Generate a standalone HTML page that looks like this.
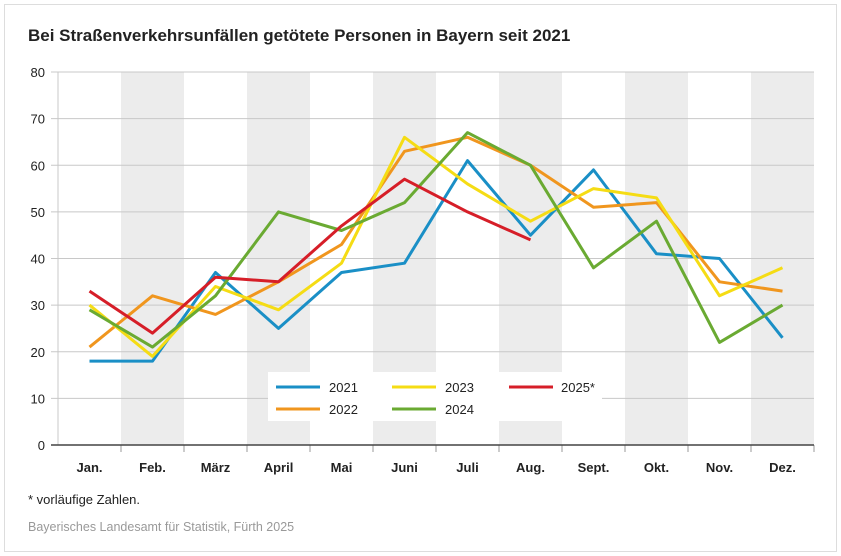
<!DOCTYPE html><html><head><meta charset="utf-8"><style>body{margin:0;background:#fff}svg{display:block;font-family:"Liberation Sans",sans-serif}</style></head><body>
<svg width="841" height="556" viewBox="0 0 841 556">
<rect x="4.5" y="4.5" width="832" height="547" fill="#fff" stroke="#ddd"/>
<text x="28" y="41" font-size="17" font-weight="bold" fill="#222">Bei Straßenverkehrsunfällen getötete Personen in Bayern seit 2021</text>
<g fill="#ececec"><rect x="121" y="72" width="63" height="373"/><rect x="247" y="72" width="63" height="373"/><rect x="373" y="72" width="63" height="373"/><rect x="499" y="72" width="63" height="373"/><rect x="625" y="72" width="63" height="373"/><rect x="751" y="72" width="63" height="373"/></g>
<g stroke="#c8c8c8" stroke-width="1"><line x1="51" x2="814" y1="72" y2="72"/><line x1="51" x2="814" y1="118.6" y2="118.6"/><line x1="51" x2="814" y1="165.3" y2="165.3"/><line x1="51" x2="814" y1="211.9" y2="211.9"/><line x1="51" x2="814" y1="258.5" y2="258.5"/><line x1="51" x2="814" y1="305.1" y2="305.1"/><line x1="51" x2="814" y1="351.8" y2="351.8"/><line x1="51" x2="814" y1="398.4" y2="398.4"/><line x1="58" x2="58" y1="72" y2="445"/></g>
<g stroke="#999"><line x1="121" x2="121" y1="445" y2="452"/><line x1="184" x2="184" y1="445" y2="452"/><line x1="247" x2="247" y1="445" y2="452"/><line x1="310" x2="310" y1="445" y2="452"/><line x1="373" x2="373" y1="445" y2="452"/><line x1="436" x2="436" y1="445" y2="452"/><line x1="499" x2="499" y1="445" y2="452"/><line x1="562" x2="562" y1="445" y2="452"/><line x1="625" x2="625" y1="445" y2="452"/><line x1="688" x2="688" y1="445" y2="452"/><line x1="751" x2="751" y1="445" y2="452"/><line x1="814" x2="814" y1="445" y2="452"/></g>
<line x1="51" x2="814" y1="445" y2="445" stroke="#444" stroke-width="1.5"/>
<g font-size="13" fill="#222" text-anchor="end"><text x="45" y="77">80</text><text x="45" y="123.6">70</text><text x="45" y="170.3">60</text><text x="45" y="216.9">50</text><text x="45" y="263.5">40</text><text x="45" y="310.1">30</text><text x="45" y="356.8">20</text><text x="45" y="403.4">10</text><text x="45" y="450">0</text></g>
<g font-size="13" font-weight="bold" fill="#222" text-anchor="middle"><text x="89.5" y="472">Jan.</text><text x="152.5" y="472">Feb.</text><text x="215.5" y="472">März</text><text x="278.5" y="472">April</text><text x="341.5" y="472">Mai</text><text x="404.5" y="472">Juni</text><text x="467.5" y="472">Juli</text><text x="530.5" y="472">Aug.</text><text x="593.5" y="472">Sept.</text><text x="656.5" y="472">Okt.</text><text x="719.5" y="472">Nov.</text><text x="782.5" y="472">Dez.</text></g>
<g fill="none" stroke-width="3" stroke-linejoin="round">
<polyline stroke="#1a8fc6" points="89.5,361.1 152.5,361.1 215.5,272.5 278.5,328.4 341.5,272.5 404.5,263.2 467.5,160.6 530.5,235.2 593.5,169.9 656.5,253.8 719.5,258.5 782.5,337.8"/>
<polyline stroke="#f0961e" points="89.5,347.1 152.5,295.8 215.5,314.4 278.5,281.8 341.5,244.5 404.5,151.3 467.5,137.3 530.5,165.3 593.5,207.2 656.5,202.6 719.5,281.8 782.5,291.1"/>
<polyline stroke="#f5dc14" points="89.5,305.1 152.5,356.4 215.5,286.5 278.5,309.8 341.5,263.2 404.5,137.3 467.5,183.9 530.5,221.2 593.5,188.6 656.5,197.9 719.5,295.8 782.5,267.8"/>
<polyline stroke="#6aaa32" points="89.5,309.8 152.5,347.1 215.5,295.8 278.5,211.9 341.5,230.5 404.5,202.6 467.5,132.6 530.5,165.3 593.5,267.8 656.5,221.2 719.5,342.4 782.5,305.1"/>
<polyline stroke="#d61e28" points="89.5,291.1 152.5,333.1 215.5,277.2 278.5,281.8 341.5,225.9 404.5,179.2 467.5,211.9 530.5,239.9"/>
</g>
<rect x="268" y="372" width="334" height="49" fill="#fff"/>
<g stroke-width="3"><line x1="276" x2="320" y1="387" y2="387" stroke="#1a8fc6"/><line x1="276" x2="320" y1="409" y2="409" stroke="#f0961e"/><line x1="392" x2="436" y1="387" y2="387" stroke="#f5dc14"/><line x1="392" x2="436" y1="409" y2="409" stroke="#6aaa32"/><line x1="509" x2="553" y1="387" y2="387" stroke="#d61e28"/></g>
<g font-size="13" fill="#222"><text x="329" y="392">2021</text><text x="329" y="414">2022</text><text x="445" y="392">2023</text><text x="445" y="414">2024</text><text x="561" y="392">2025*</text></g>
<text x="28" y="504" font-size="13" fill="#222">* vorläufige Zahlen.</text>
<text x="28" y="531" font-size="12.5" fill="#999">Bayerisches Landesamt für Statistik, Fürth 2025</text>
</svg></body></html>
